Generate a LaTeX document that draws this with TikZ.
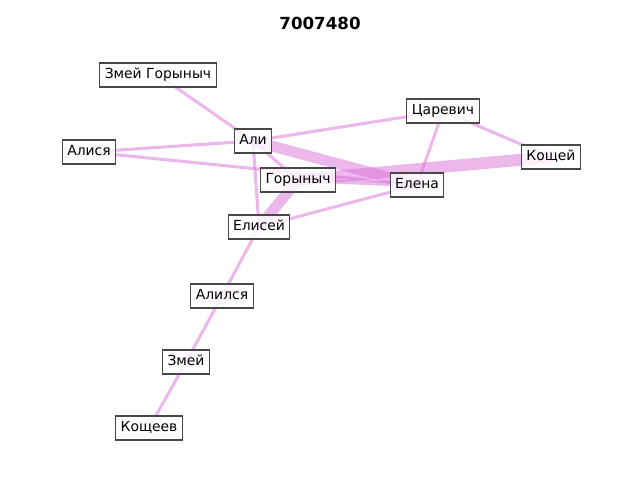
\documentclass[tikz,border=0pt]{standalone}
\usepackage{fontspec}
\setmainfont{DejaVu Sans}
\definecolor{edgecol}{RGB}{218,112,214}
\definecolor{boxline}{RGB}{72,72,72}
\begin{document}
\begin{tikzpicture}[x=0.72pt,y=-0.72pt,
  lbl/.style={draw=boxline,line width=0.75pt,fill=white,fill opacity=0.8,text opacity=1,
    font=\fontsize{10}{12}\selectfont,inner xsep=3.6pt,inner ysep=0pt,
    minimum height=17.3pt,text height=7.6pt,text depth=1.9pt},
  edge/.style={draw=edgecol,draw opacity=0.5,line width=2.2pt},
  thick1/.style={edge,line width=7.8pt},
  thick2/.style={edge,line width=8.6pt},
  mid/.style={edge,line width=3pt}]
\useasboundingbox (0,0) rectangle (640,480);
\node[font=\bfseries\fontsize{12}{14}\selectfont] (title) at (320,23) {7007480};
% coordinates of nodes
\coordinate (zg) at (158,75);
\coordinate (as) at (89,152);
\coordinate (al) at (253,141);
\coordinate (cr) at (443,111);
\coordinate (ko) at (551,157);
\coordinate (go) at (298,180);
\coordinate (el) at (417,185);
\coordinate (es) at (259,227);
\coordinate (ai) at (222,296);
\coordinate (zm) at (186,362);
\coordinate (kv) at (149,428);
% edges
\draw[edge] (zg) -- (al);
\draw[edge] (as) -- (al);
\draw[edge] (as) -- (el);
\draw[edge] (al) -- (cr);
\draw[thick1] (al) -- (el);
\draw[edge] (al) -- (es);
\draw[edge] (al) -- (go);
\draw[mid] (go) -- (el);
\draw[thick2] (go) -- (ko);
\draw[thick1] (go) -- (es);
\draw[edge] (es) -- (el);
\draw[edge] (cr) -- (el);
\draw[edge] (cr) -- (ko);
\draw[edge] (es) -- (ai);
\draw[edge] (ai) -- (zm);
\draw[edge] (zm) -- (kv);
% nodes
\node[lbl] (nzg) at (zg) {Змей Горыныч};
\node[lbl] (nas) at (as) {Алися};
\node[lbl] (nal) at (al) {Али};
\node[lbl] (ncr) at (cr) {Царевич};
\node[lbl] (nko) at (ko) {Кощей};
\node[lbl] (ngo) at (go) {Горыныч};
\node[lbl] (nel) at (el) {Елена};
\node[lbl] (nes) at (es) {Елисей};
\node[lbl] (nai) at (ai) {Алился};
\node[lbl] (nzm) at (zm) {Змей};
\node[lbl] (nkv) at (kv) {Кощеев};
\end{tikzpicture}
\end{document}
